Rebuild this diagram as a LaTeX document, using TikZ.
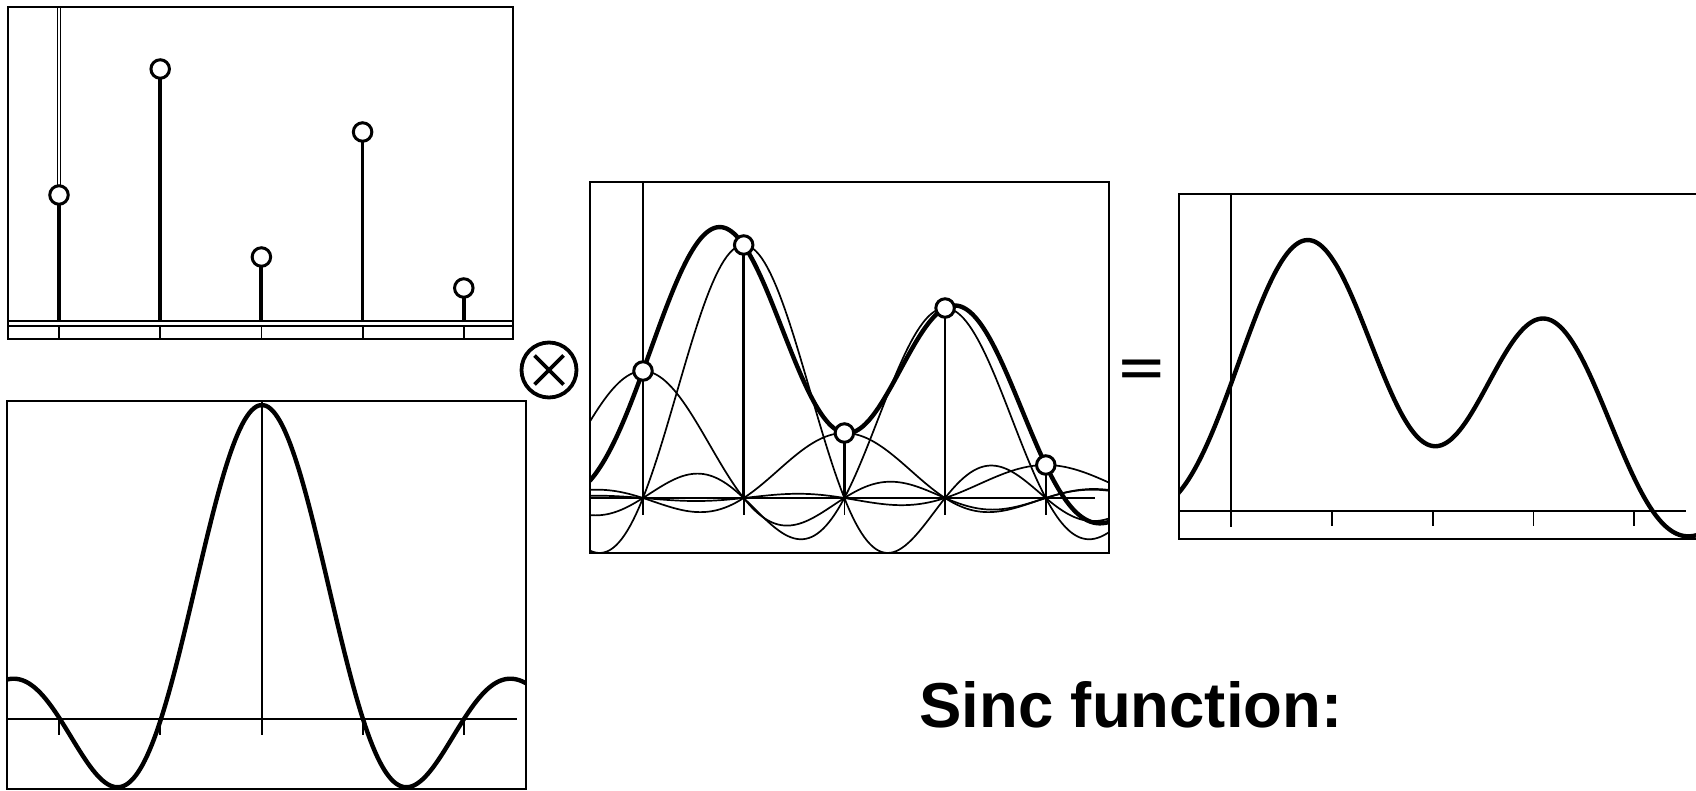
\documentclass[tikz,border=0pt]{standalone}
\usepackage{fontspec}
\setmainfont{Liberation Sans}
\begin{document}
\begin{tikzpicture}[x=1pt,y=-1pt,
  declare function={sinc(\t)=sin(180*(\t+0.0005))/(pi*(\t+0.0005));
    rec(\t)=127*sinc(\t)+253*sinc(\t-1)+65*sinc(\t-2)+190*sinc(\t-3)+33*sinc(\t-4);},
  frame/.style={draw=black,line width=2.4pt},
  axisline/.style={line width=2.1pt},
  tickline/.style={line width=1.8pt},
  thincurve/.style={line width=1.7pt},
  thickcurve/.style={line width=4.4pt,line join=round},
  sample/.style={circle,draw=black,fill=white,line width=3pt,minimum size=18.5pt,inner sep=0pt},
  opsym/.style={circle,draw=black,line width=3.8pt,minimum size=55pt,inner sep=0pt},
  ]
\useasboundingbox (0,0) rectangle (1696,790);

% ---------- panel 1: samples ----------
\draw[frame] (8,7) rectangle (513,339);
\draw[line width=1.4pt] (8,321) -- (513,321) (8,326) -- (513,326);
\draw[line width=1.3pt] (57.5,8) -- (57.5,195) (60.5,8) -- (60.5,195);
\foreach \i/\h/\w in {0/127/4.4,1/253/4.4,2/65/4,3/190/3,4/34/3.8}{
  \draw[line width=\w pt] ({59+101.2*\i},322) -- ({59+101.2*\i},{322-\h});
  \draw[tickline] ({59+101.2*\i},326) -- ({59+101.2*\i},339);
  \node[sample] (pa\i) at ({59+101.2*\i},{322-\h}) {};
}

% ---------- panel 2: sinc ----------
\draw[axisline] (8,719) -- (517,719);
\draw[axisline] (262,402) -- (262,735);
\foreach \x in {59,160,363,464} \draw[tickline] (\x,719) -- (\x,735);
\begin{scope}
  \clip (7,401) rectangle (526,790);
  \draw[thickcurve] plot[domain=-2.52:2.62,samples=220] ({262+101*\x},{719-314*sinc(\x)});
\end{scope}
\draw[frame] (7,401) rectangle (526,789);

% ---------- operator ----------
\node[opsym] (otimes) at (549,370) {};
\draw[line width=3.8pt] (534.5,355.5) -- (563.5,384.5) (534.5,384.5) -- (563.5,355.5);

% ---------- panel 3: sum of sincs ----------
\begin{scope}
  \clip (590,182) rectangle (1109,553);
  \foreach \i/\h in {0/127,1/253,2/65,3/190,4/33}
    \draw[thincurve] plot[domain=-0.53:4.66,samples=180] ({643+100.7*\x},{498-\h*sinc(\x-\i)});
  \draw[axisline] (590,498) -- (1095,498);
  \draw[axisline] (643,183) -- (643,515);
  \foreach \i in {1,2,3,4} \draw[tickline] ({643+100.7*\i},498) -- ({643+100.7*\i},515);
  \draw[thickcurve] plot[domain=-0.53:4.66,samples=240] ({643+100.7*\x},{498-rec(\x)});
\end{scope}
\foreach \i/\h in {0/127,1/253,2/65,3/190,4/33}{
  \draw[line width=2.6pt] ({643+100.7*\i},498) -- ({643+100.7*\i},{498-\h});
  \node[sample] (pc\i) at ({643+100.7*\i},{498-\h}) {};
}
\draw[frame] (590,182) rectangle (1109,553);

% ---------- equals ----------
\node[font=\bfseries\fontsize{76}{80}\selectfont,inner sep=0pt,yscale=0.62,transform shape] (eq) at (1142,372) {=};

% ---------- panel 4: reconstruction ----------
\draw[axisline] (1179,511) -- (1686,511);
\draw[axisline] (1231,195) -- (1231,527);
\foreach \i in {1,2,3,4} \draw[tickline] ({1231+100.8*\i},511) -- ({1231+100.8*\i},526);
\begin{scope}
  \clip (1179,194) rectangle (1696,539);
  \draw[thickcurve] plot[domain=-0.53:4.66,samples=240] ({1231+100.8*\x},{511-rec(\x)});
\end{scope}
\draw[frame] (1179,194) rectangle (1720,539);

% ---------- caption ----------
\node[font=\bfseries\fontsize{63.5}{70}\selectfont,anchor=base west,inner sep=0pt] (title) at (919,727) {Sinc function:};
\end{tikzpicture}
\end{document}
